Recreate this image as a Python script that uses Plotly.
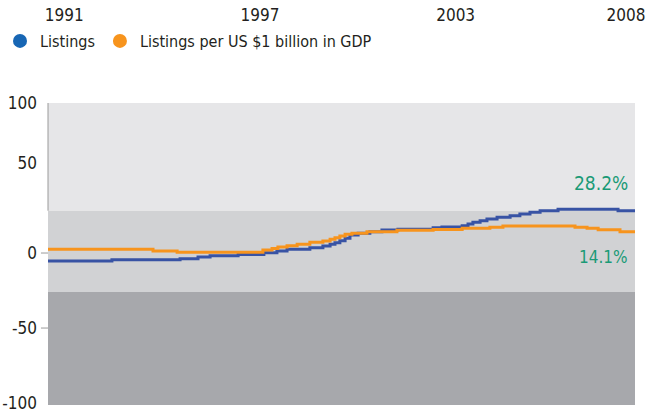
import plotly.graph_objects as go

# step series (decimal year, value)
listings_x = [1990.50, 1992.46, 1994.55, 1995.10, 1995.47, 1996.33, 1997.12, 1997.52,
              1997.83, 1998.53, 1998.93, 1999.15, 1999.30, 1999.45, 1999.61, 1999.76,
              2000.01, 2000.37, 2000.74, 2001.23, 2002.31, 2002.58, 2003.20, 2003.38,
              2003.53, 2003.75, 2003.96, 2004.27, 2004.67, 2004.97, 2005.28, 2005.59,
              2006.14, 2007.98, 2008.50]
listings_y = [-5.3, -4.5, -3.8, -2.7, -1.8, -1.0, 0.2, 1.3,
              2.5, 3.5, 4.7, 5.8, 6.9, 8.2, 9.8, 12.0,
              13.1, 14.2, 15.3, 15.8, 16.9, 17.4, 18.2, 19.3,
              20.5, 21.5, 22.7, 23.8, 24.9, 26.0, 27.1, 28.2,
              29.1, 28.2, 28.2]

per_gdp_x = [1990.50, 1993.72, 1994.46, 1997.09, 1997.37, 1997.55, 1997.83, 1998.14,
             1998.53, 1998.93, 1999.15, 1999.30, 1999.45, 1999.61, 1999.82, 2000.28,
             2001.20, 2002.31, 2003.20, 2004.05, 2004.45, 2006.66, 2007.03, 2007.37,
             2008.04, 2008.50]
per_gdp_y = [2.5, 1.3, 0.6, 2.0, 3.1, 4.0, 4.9, 5.8,
             7.1, 8.0, 9.1, 10.2, 11.3, 12.5, 13.1, 14.2,
             15.1, 15.6, 16.5, 17.1, 18.0, 17.1, 16.5, 15.5,
             14.1, 14.1]

year_ticks = [1991, 1997, 2003, 2008]
year_labels = ['1991', '1997', '2003', '\u00a0\u00a0\u00a02008']
value_ticks = [100, 60, 0, -50, -100]
value_labels = ['100', '50', '0', '-50', '-100']
bands = [(28.2, 100, '#e6e6e8'), (-26, 28.2, '#d1d2d4'), (-101.3, -26, '#a7a8ac')]

FONT = 'DejaVu Sans Condensed, DejaVu Sans, sans-serif'
TXT = '#231f20'

fig = go.Figure()
fig.add_trace(go.Scatter(x=listings_x, y=listings_y, mode='lines', line_shape='hv',
                         line=dict(color='#3853a4', width=3), showlegend=False))
fig.add_trace(go.Scatter(x=per_gdp_x, y=per_gdp_y, mode='lines', line_shape='hv',
                         line=dict(color='#f7941d', width=3), showlegend=False))
# legend entries drawn as dots
fig.add_trace(go.Scatter(x=[None], y=[None], mode='markers', name='Listings',
                         marker=dict(color='#1766b4', size=14)))
fig.add_trace(go.Scatter(x=[None], y=[None], mode='markers',
                         name='Listings per US $1 billion in GDP',
                         marker=dict(color='#f7941d', size=14)))

for lo, hi, col in bands:
    fig.add_shape(type='rect', xref='paper', yref='y', x0=0, x1=1, y0=lo, y1=hi,
                  fillcolor=col, line_width=0, layer='below')
fig.add_shape(type='line', xref='paper', yref='y', x0=0, x1=0, y0=28.2, y1=100,
              line=dict(color='#9a9a9a', width=1))
for v in [0, -50]:
    fig.add_shape(type='line', xref='paper', yref='y', x0=-0.012, x1=0, y0=v, y1=v,
                  line=dict(color='#9a9a9a', width=1))

fig.add_annotation(x=0.9915, xref='paper', y=46.7, yref='y', text='28.2%',
                   showarrow=False, xanchor='right',
                   font=dict(family=FONT, size=19, color='#1a9a76'))
fig.add_annotation(x=0.9915, xref='paper', y=-2.7, yref='y', text='14.1%',
                   showarrow=False, xanchor='right',
                   font=dict(family=FONT, size=17, color='#1a9a76'))

fig.update_layout(
    width=646, height=413,
    margin=dict(l=48, r=11, t=70, b=8),
    paper_bgcolor='white', plot_bgcolor='white',
    font=dict(family=FONT, size=17, color=TXT),
    xaxis=dict(range=[1990.5, 2008.5], side='top', anchor='y', ticklabelstandoff=78,
               tickvals=year_ticks, ticktext=year_labels, showgrid=False,
               zeroline=False, showline=False, ticks='', automargin=False),
    yaxis=dict(range=[-101.3, 100], domain=[0, 0.9015], tickvals=value_ticks,
               ticktext=value_labels, showgrid=False, zeroline=False, showline=False,
               ticks='', ticklabelstandoff=10, automargin=False),
    legend=dict(orientation='h', xref='container', x=0, xanchor='left',
                yref='container', y=1 - 41 / 413, yanchor='middle',
                font=dict(size=16), bgcolor='rgba(0,0,0,0)'),
)

fig.write_html("out.html", config={'displayModeBar': False},
               post_script="document.body.style.margin='0px';")
